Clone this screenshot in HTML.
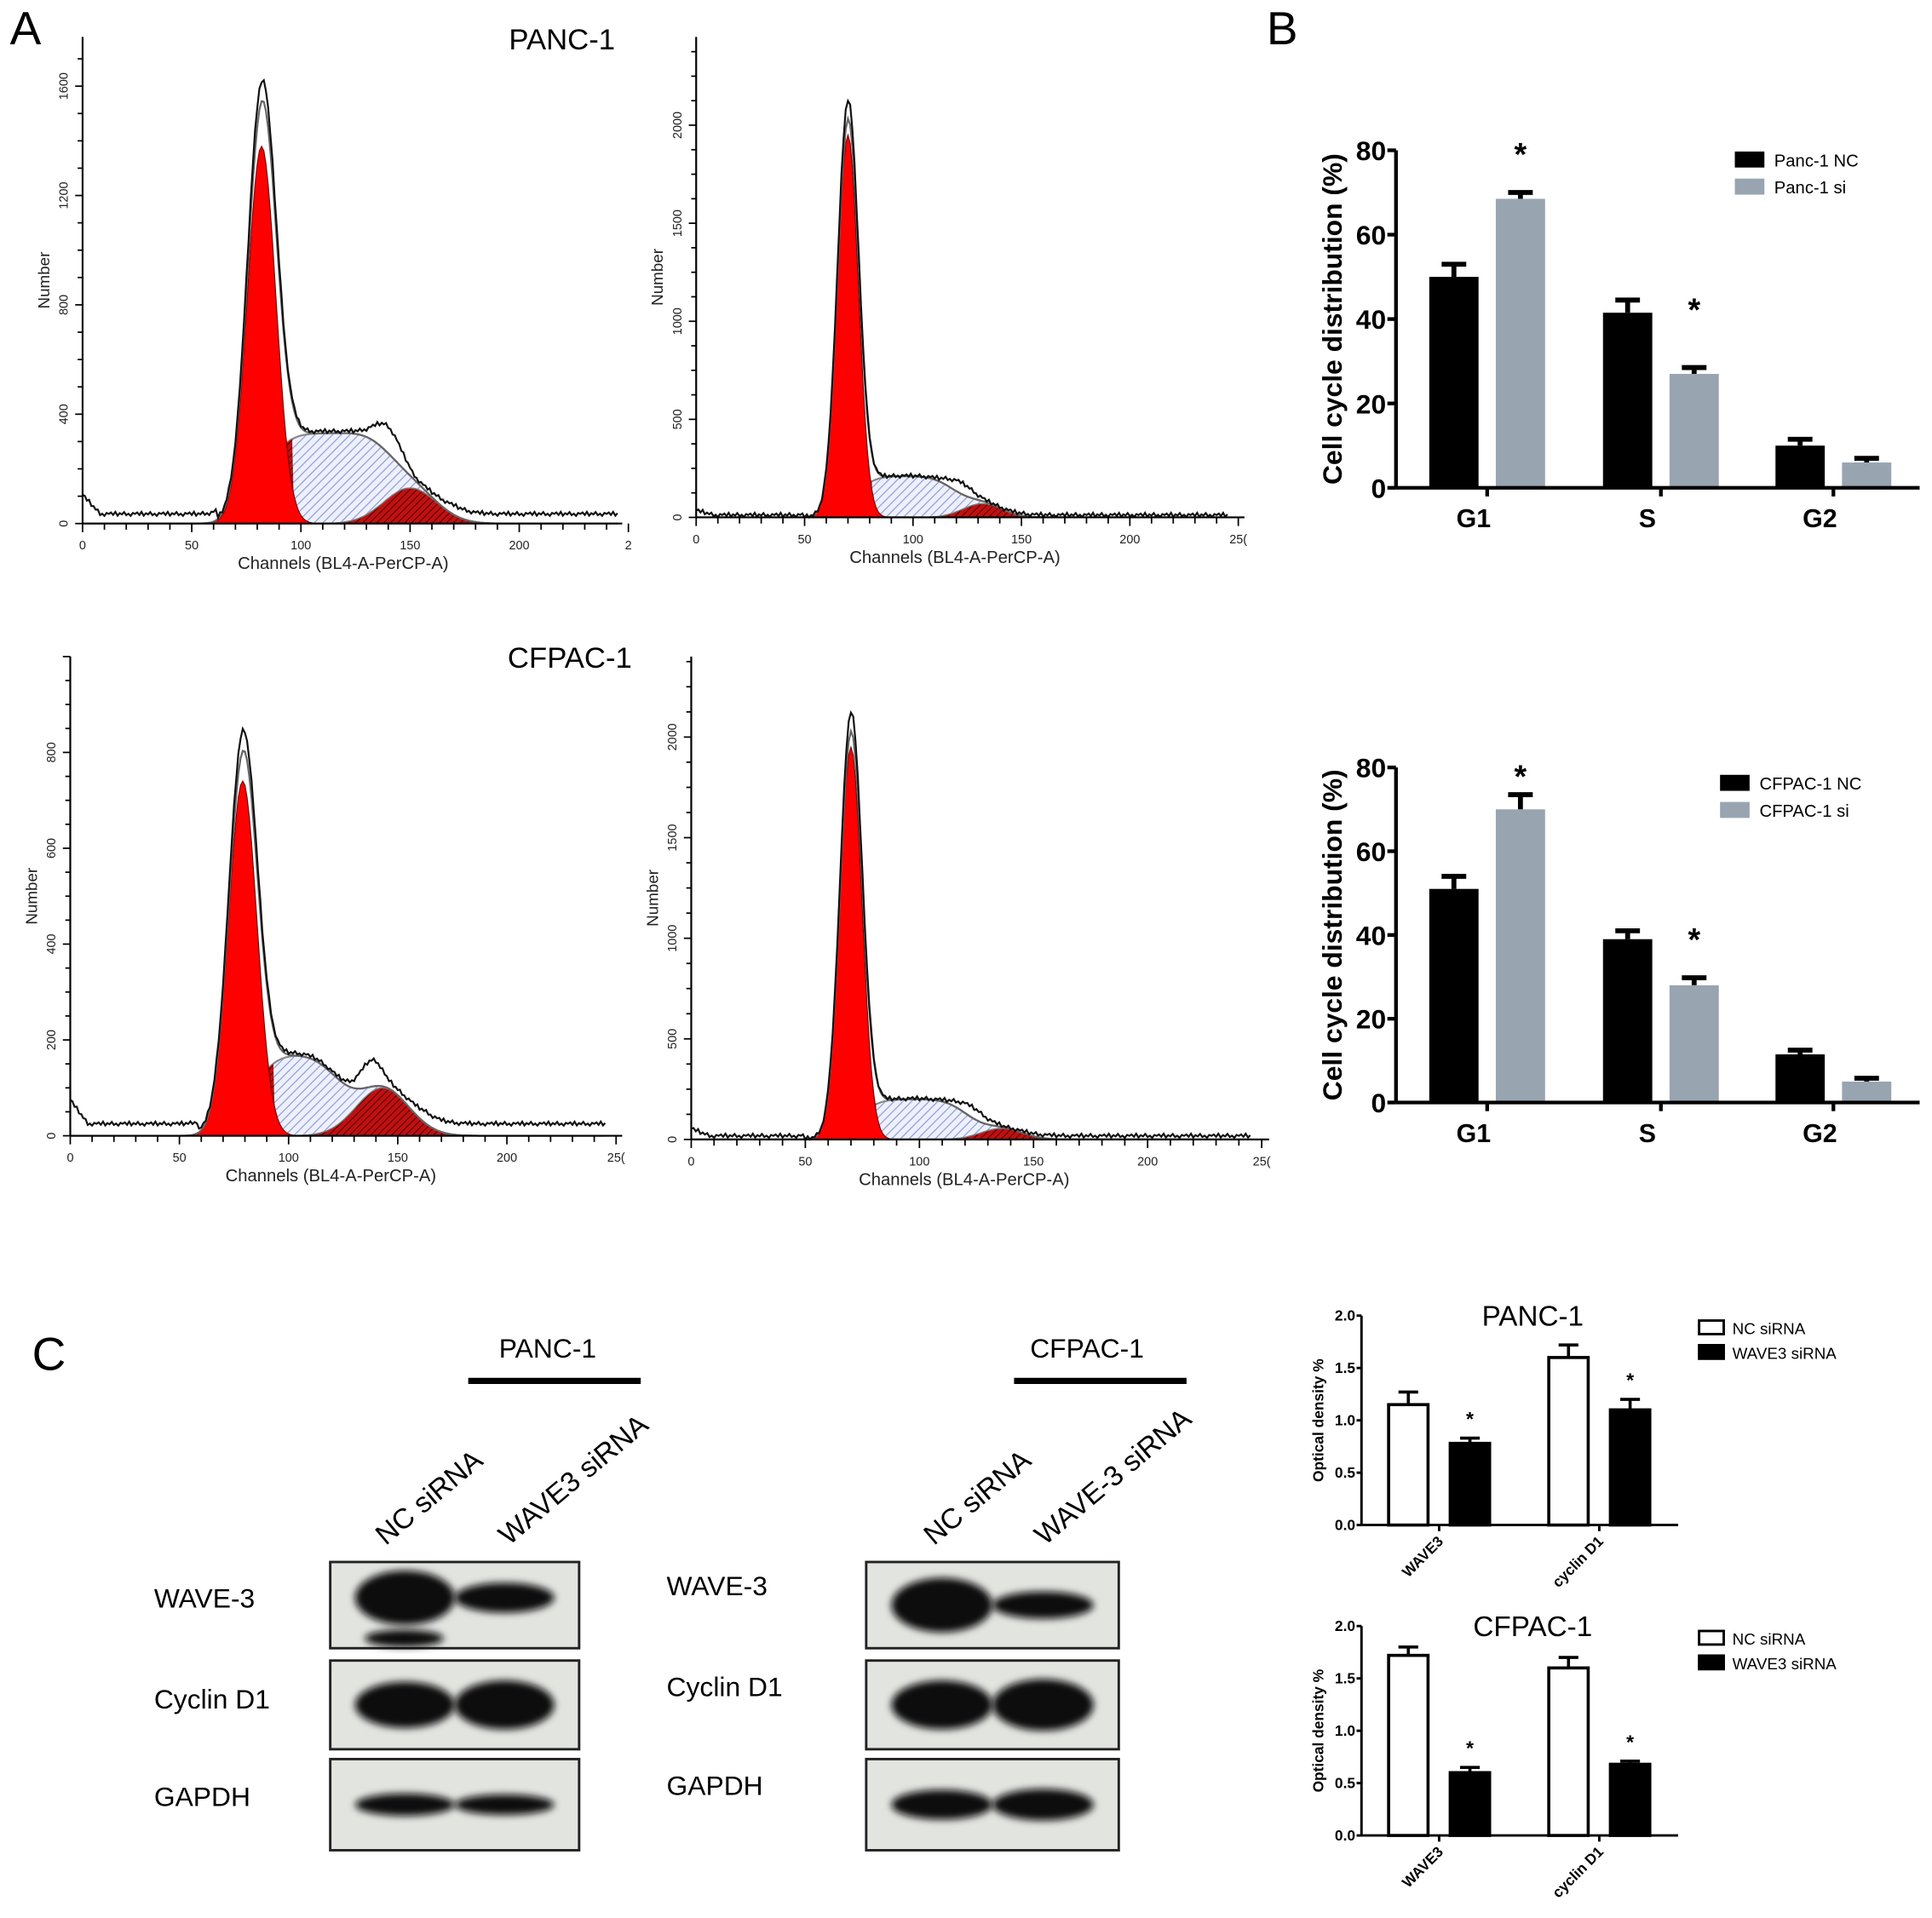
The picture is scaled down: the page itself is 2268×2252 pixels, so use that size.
<!DOCTYPE html>
<html><head><meta charset="utf-8"><style>
html,body{margin:0;padding:0;background:#fff}
svg{display:block}
text{font-family:"Liberation Sans",sans-serif}
</style></head><body>
<svg id="fig" xmlns="http://www.w3.org/2000/svg" width="2268" height="2252" viewBox="0 0 1568 1557">
<defs>
<pattern id="hb" patternUnits="userSpaceOnUse" width="5" height="5" patternTransform="rotate(45)"><rect width="5" height="5" fill="#eef0fb"/><line x1="0" y1="0" x2="0" y2="5" stroke="#8a9ad8" stroke-width="1.6"/></pattern>
<pattern id="hr" patternUnits="userSpaceOnUse" width="4" height="4" patternTransform="rotate(45)"><rect width="4" height="4" fill="#c01010"/><line x1="0" y1="0" x2="0" y2="4" stroke="#400" stroke-width="1.3"/></pattern>
<filter id="blur" x="-20%" y="-50%" width="140%" height="200%"><feGaussianBlur stdDeviation="3"/></filter>
</defs>
<rect width="1568" height="1557" fill="#fff"/>
<text x="8" y="36" font-size="38">A</text>
<text x="1028" y="36" font-size="38">B</text>
<text x="26" y="1112" font-size="38">C</text>
<text x="413" y="40" font-size="24">PANC-1</text>
<text x="412" y="542" font-size="24">CFPAC-1</text>
<g id="hists"></g><g id="bars"></g><g id="blots"></g><g id="small"></g>
</svg>
<script>
// ---------- flow histogram data ----------
const histG1 = [[82,6.5,1380],[70,4.8,1950],[79,6.5,740],[70,4.8,1950]];   // mean, sd, height
const histS  = [[330,82,140,13],[210,72,120,11],[170,82,124,13],[200,72,122,11]]; // height, left, right, softness
const histG2 = [[150,12,130],[132,9,70],[143,12,100],[136,9,55]];
const histBump = [[140,6,90],[122,6,55],[138,5,50],[123,6,50]];
const histBase = [35,12,25,18];
const histNoise = [0,6,-4,9,-7,3,-2,8,-5,1,-8,4];
const histYTicks = [[0,400,800,1200,1600],[0,500,1000,1500,2000],[0,200,400,600,800],[0,500,1000,1500,2000]];
const histXTicks = [0,50,100,150,200,250];
const histXLbl = [["0","50","100","150","200","2"],["0","50","100","150","200","25("],["0","50","100","150","200","25("],["0","50","100","150","200","25("]];
const NS="http://www.w3.org/2000/svg";
function mk(tag,attrs,parent){const e=document.createElementNS(NS,tag);for(const k in attrs)e.setAttribute(k,attrs[k]);if(parent)parent.appendChild(e);return e;}
function erf(x){const s=Math.sign(x);x=Math.abs(x);const t=1/(1+0.3275911*x);const y=1-(((((1.061405429*t-1.453152027)*t)+1.421413758)*t-0.284496736)*t+0.254829592)*t*Math.exp(-x*x);return s*y;}
function gauss(x,p){return p[2]*Math.exp(-0.5*((x-p[0])/p[1])**2);}
const layouts=[
 {x0:67,x250:510,y0:425,yTop:30,ymax:1780,axEnd:505},
 {x0:565,x250:1005,y0:420,yTop:30,ymax:2450,axEnd:1010},
 {x0:57,x250:500,y0:922,yTop:533,ymax:1000,axEnd:505},
 {x0:561,x250:1024,y0:925,yTop:533,ymax:2400,axEnd:1030}];
const hg=document.getElementById('hists');
layouts.forEach((L,i)=>{
 const g=mk('g',{},hg);
 
 
 const X=v=>L.x0+(L.x250-L.x0)*v/250, Y=v=>L.y0-(L.y0-L.yTop)*v/L.ymax;
 const g1=histG1[i],sp=histS[i],g2=histG2[i],b=histBump[i];
 const S=x=>sp[0]*0.5*(erf((x-sp[1])/sp[3])-erf((x-sp[2])/sp[3]));
 const xs=[];for(let x=0;x<=245;x+=1)xs.push(x);
 const path=(f,lo,hi)=>{let d='M'+X(lo)+','+Y(0);xs.filter(x=>x>=lo&&x<=hi).forEach(x=>d+='L'+X(x).toFixed(1)+','+Y(f(x)).toFixed(1));return d+'L'+X(hi)+','+Y(0)+'Z';};
 const sum=x=>S(x)+gauss(x,g2);
 const s1=mk('path',{d:path(sum,40,220),fill:'url(#hb)',stroke:'#888','stroke-width':1.5},g);
 
 const cut=g1[0]+2.3*g1[1];
 const s2=mk('path',{d:path(sum,40,cut),fill:'url(#hr)'},g);
 
 const g2p=mk('path',{d:path(x=>gauss(x,g2),g2[0]-45,g2[0]+45),fill:'url(#hr)',stroke:'#777','stroke-width':1},g);
 
 const g1p=mk('path',{d:path(x=>gauss(x,g1),g1[0]-25,g1[0]+25),fill:'#f00',stroke:'#700','stroke-width':0.8},g);
 
 let d='';xs.forEach((x,k)=>{const v=gauss(x,g1)+sum(x);d+=(k?'L':'M')+X(x).toFixed(1)+','+Y(v).toFixed(1);});
 const fit=mk('path',{d:d,fill:'none',stroke:'#666','stroke-width':1.5},g);
 
 d='';xs.forEach((x,k)=>{const n=histNoise[k%histNoise.length]*L.ymax/2000;
  const base=histBase[i]*(x<g1[0]-20?1:(x>g2[0]?Math.min(1,(x-g2[0])/20):0.2))+(x<8?histBase[i]*2*(8-x)/8:0);
  const v=(gauss(x,g1)*1.05+sum(x))*1.0+gauss(x,b)+base+n;
  d+=(k?'L':'M')+X(x).toFixed(1)+','+Y(Math.max(0,v)).toFixed(1);});
 const raw=mk('path',{d:d,fill:'none',stroke:'#111','stroke-width':1.5},g);
 
 mk('line',{x1:L.x0,y1:L.yTop,x2:L.x0,y2:L.y0,stroke:'#000','stroke-width':1.5},g);
 mk('line',{x1:L.x0,y1:L.y0,x2:L.axEnd,y2:L.y0,stroke:'#000','stroke-width':1.5},g);
 for(let t=0;t<=250;t+=10){mk('line',{x1:X(t),y1:L.y0,x2:X(t),y2:L.y0+(t%50==0?7:5),stroke:'#000','stroke-width':1.2},g);}
 histXTicks.forEach((t,k)=>{const tx=mk('text',{x:X(t),y:L.y0+21,'font-size':10,'text-anchor':'middle',fill:'#222'},g);tx.textContent=histXLbl[i][k];});
 const yt=histYTicks[i];const step=(yt[1]-yt[0])/4;
 for(let v=0;v<=L.ymax;v+=step){mk('line',{x1:L.x0-(v%(yt[1])==0?6:4),y1:Y(v),x2:L.x0,y2:Y(v),stroke:'#000','stroke-width':1.2},g);}
 yt.forEach(v=>{const tx=mk('text',{transform:`translate(${L.x0-12},${Y(v)}) rotate(-90)`,'font-size':10,'text-anchor':'middle',fill:'#222'},g);tx.textContent=v;});
 const xl=mk('text',{x:(L.x0+L.x250)/2-10,y:L.y0+37,'font-size':14,'text-anchor':'middle',fill:'#222'},g);xl.textContent='Channels (BL4-A-PerCP-A)';
 const yl=mk('text',{transform:`translate(${L.x0-27},${(L.y0+L.yTop)/2}) rotate(-90)`,'font-size':13,'text-anchor':'middle',fill:'#222'},g);yl.textContent='Number';
});

// ---------- Panel B cell cycle bars ----------
const cycCats=['G1','S','G2'];
const cycNC=[[50,41.5,10],[51,39,11.5]];
const cycNCerr=[[3,3,1.5],[3,2,1]];
const cycSI=[[68.5,27,6],[70,28,5]];
const cycSIerr=[[1.5,1.5,1],[3.5,1.8,0.8]];
const cycStar=[[1,1,0],[1,1,0]];
const cycTicks=[0,20,40,60,80];
const cycLegend=[['Panc-1 NC','Panc-1 si'],['CFPAC-1 NC','CFPAC-1 si']];
const bg=document.getElementById('bars');
[{y0:396,y80:122,leg:[1410,130]},{y0:895,y80:623,leg:[1398,636]}].forEach((L,i)=>{
 const g=mk('g',{},bg);
 
 
 const ax=1133,Y=v=>L.y0-(L.y0-L.y80)*v/80;
 const cx=[1207,1348,1488];
 cycCats.forEach((c,k)=>{
  [[cycNC,cycNCerr,'#000',-27],[cycSI,cycSIerr,'#98a5b1',27]].forEach(([vals,errs,col,off],s)=>{
   const v=vals[i][k],e=errs[i][k],x=cx[k]+off-20;
   const r=mk('rect',{x:x,y:Y(v),width:40,height:Y(0)-Y(v),fill:col},g);
   
   mk('path',{d:`M${x+20},${Y(v)}V${Y(v+e)}M${x+10},${Y(v+e)}H${x+30}`,stroke:'#000','stroke-width':4,fill:'none'},g);
   if(s&&cycStar[i][k]){const st=mk('text',{x:x+20,y:Y(v+e)+(i?-22:-38)+(k?0:16),'font-size':26,'font-weight':'bold','text-anchor':'middle'},g);st.textContent='*';}
  });
  const t=mk('text',{x:cx[k]-11,y:L.y0+32,'font-size':21,'font-weight':'bold','text-anchor':'middle'},g);t.textContent=c;
  mk('line',{x1:cx[k],y1:L.y0,x2:cx[k],y2:L.y0+7,stroke:'#000','stroke-width':3},g);
 });
 mk('line',{x1:ax,y1:Y(80),x2:ax,y2:L.y0,stroke:'#000','stroke-width':3},g);
 mk('line',{x1:ax,y1:L.y0,x2:1558,y2:L.y0,stroke:'#000','stroke-width':3},g);
 cycTicks.forEach(v=>{mk('line',{x1:ax-7,y1:Y(v),x2:ax,y2:Y(v),stroke:'#000','stroke-width':3},g);
  const t=mk('text',{x:ax-8,y:Y(v)+8,'font-size':22,'font-weight':'bold','text-anchor':'end'},g);t.textContent=v;});
 const yl=mk('text',{transform:`translate(1089,${(L.y0+L.y80)/2}) rotate(-90)`,'font-size':22,'font-weight':'bold','text-anchor':'middle'},g);yl.textContent='Cell cycle distribution (%)';
 cycLegend[i].forEach((s,k)=>{mk('rect',{x:L.leg[0]-2,y:L.leg[1]-7+k*22,width:24,height:13,fill:k?'#98a5b1':'#000'},g);
  const t=mk('text',{x:L.leg[0]+30,y:L.leg[1]+5+k*22,'font-size':14},g);t.textContent=s;});
});

// ---------- Panel C blots ----------
const bl=document.getElementById('blots');
function txt(x,y,s,size,extra,name){const t=mk('text',Object.assign({x:x,y:y,'font-size':size},extra||{}),bl);t.textContent=s;return t;}
txt(405,1102,'PANC-1',22,{},'blot-group-panc1');
txt(836,1102,'CFPAC-1',22,{},'blot-group-cfpac1');
mk('line',{x1:380,y1:1121,x2:520,y2:1121,stroke:'#000','stroke-width':5},bl);
mk('line',{x1:823,y1:1121,x2:963,y2:1121,stroke:'#000','stroke-width':5},bl);
[[313,1255,'NC siRNA'],[413,1255,'WAVE3 siRNA'],[758,1255,'NC siRNA'],[848,1255,'WAVE-3 siRNA']].forEach(a=>txt(a[0],a[1],a[2],23,{transform:`rotate(-40 ${a[0]} ${a[1]})`},'lane-label'));
const blotRows=['WAVE-3','Cyclin D1','GAPDH'];
const bandL=[[1,0.55,0.85,0.9,0.6,0.55],[1,0.5,0.9,0.95,0.8,0.85]];
[[268,470,125,[1305,1387,1466]],[703,908,541,[1295,1377,1457]]].forEach((B,i)=>{
 const rows=[[1268,1338],[1348,1420],[1428,1502]];
 rows.forEach((r,k)=>{
  const rc=mk('rect',{x:B[0],y:r[0],width:B[1]-B[0],height:r[1]-r[0],fill:'#e2e4e0',stroke:'#222','stroke-width':2},bl);
  
  txt(B[2],B[3][k],blotRows[k],22,{},'row-label');
  const cy=(r[0]+r[1])/2-(k==0&&i==0?6:0);
  const w=B[1]-B[0];
  [0,1].forEach(l=>{const v=bandL[i][k*2+l];
   mk('ellipse',{cx:B[0]+w*(l?0.7:0.3),cy:cy,rx:w*0.2,ry:(k==2?15:22)*v,fill:'#0b0b0b',filter:'url(#blur)'},bl);});
  if(k==0&&i==0)mk('ellipse',{cx:B[0]+60,cy:1330,rx:32,ry:7,fill:'#111',filter:'url(#blur)'},bl);
 });
});

// ---------- Panel C optical density bars ----------
const odCats=['WAVE3','cyclin D1'];
const odNC=[[1.15,1.6],[1.72,1.6]];
const odNCerr=[[0.12,0.12],[0.08,0.1]];
const odSI=[[0.78,1.1],[0.6,0.68]];
const odSIerr=[[0.05,0.1],[0.05,0.03]];
const odTicks=[0,0.5,1.0,1.5,2.0];
const odTitles=['PANC-1','CFPAC-1'];
const sg=document.getElementById('small');
[{y0:1238,y2:1068},{y0:1490,y2:1320}].forEach((L,i)=>{
 const g=mk('g',{},sg);
 
 
 const ax=1105,Y=v=>L.y0-(L.y0-L.y2)*v/2;
 const cx=[1168,1298];
 odCats.forEach((c,k)=>{
  [[odNC,odNCerr,'#fff',-25],[odSI,odSIerr,'#000',25]].forEach(([vals,errs,col,off],s)=>{
   const v=vals[i][k],e=errs[i][k],x=cx[k]+off-16;
   mk('path',{d:`M${x+16},${Y(v)}V${Y(v+e)}M${x+8},${Y(v+e)}H${x+24}`,stroke:'#000','stroke-width':2.5,fill:'none'},g);
   const r=mk('rect',{x:x,y:Y(v),width:32,height:Y(0)-Y(v),fill:col,stroke:'#000','stroke-width':2.5},g);
   
   if(s){const st=mk('text',{x:x+16,y:Y(v+e)-10,'font-size':16,'font-weight':'bold','text-anchor':'middle'},g);st.textContent='*';}
  });
  mk('line',{x1:cx[k],y1:L.y0,x2:cx[k],y2:L.y0+5,stroke:'#000','stroke-width':2},g);
  const t=mk('text',{transform:`translate(${cx[k]+4},${L.y0+14}) rotate(-45)`,'font-size':12,'font-weight':'bold','text-anchor':'end'},g);t.textContent=c;
 });
 mk('line',{x1:ax,y1:Y(2),x2:ax,y2:L.y0,stroke:'#000','stroke-width':2},g);
 mk('line',{x1:ax,y1:L.y0,x2:1362,y2:L.y0,stroke:'#000','stroke-width':2},g);
 odTicks.forEach(v=>{mk('line',{x1:ax-4,y1:Y(v),x2:ax,y2:Y(v),stroke:'#000','stroke-width':2},g);
  const t=mk('text',{x:ax-5,y:Y(v)+4,'font-size':12,'font-weight':'bold','text-anchor':'end'},g);t.textContent=v.toFixed(1);});
 const yl=mk('text',{transform:`translate(1074,${(L.y0+L.y2)/2}) rotate(-90)`,'font-size':12,'font-weight':'bold','text-anchor':'middle'},g);yl.textContent='Optical density %';
 const tt=mk('text',{x:1244,y:L.y2+8,'font-size':23,'text-anchor':'middle'},g);tt.textContent=odTitles[i];
 ['NC siRNA','WAVE3 siRNA'].forEach((s,k)=>{mk('rect',{x:1379,y:L.y2+4+k*20,width:20,height:11,fill:k?'#000':'#fff',stroke:'#000','stroke-width':2},g);
  const t=mk('text',{x:1406,y:L.y2+15+k*20,'font-size':13},g);t.textContent=s;});
});
</script>
</body></html>
